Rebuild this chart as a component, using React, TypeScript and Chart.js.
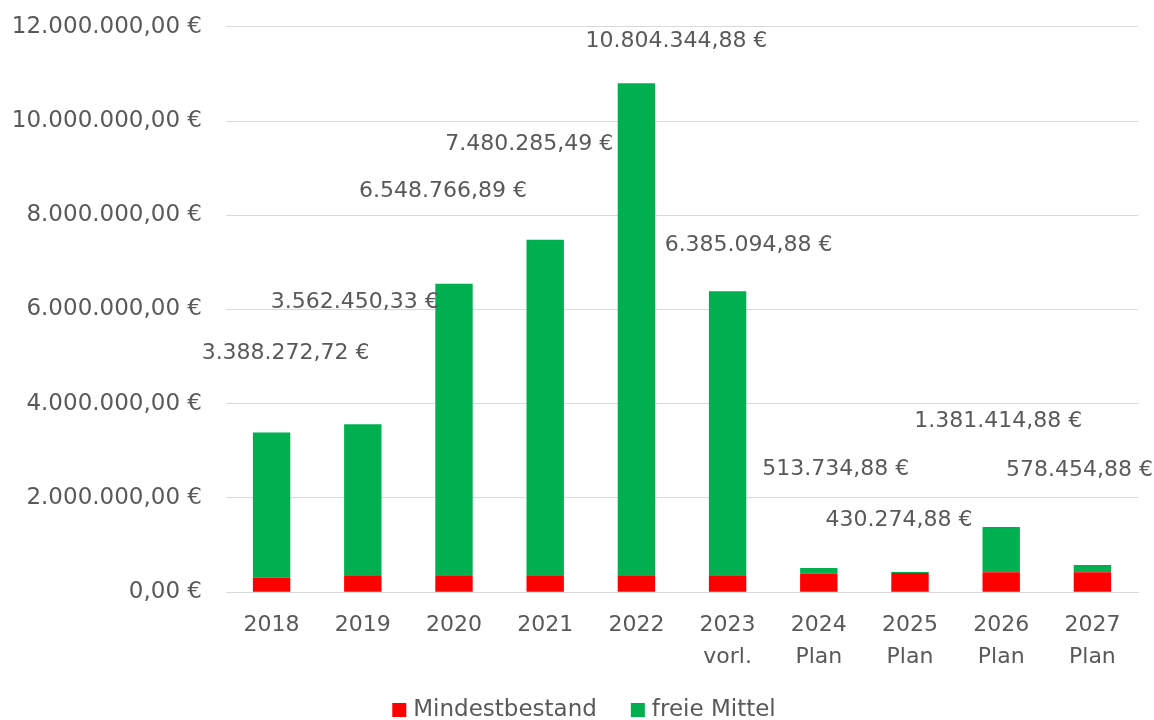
import React, { useEffect, useRef } from "react";
import { Chart, registerables } from "chart.js";

Chart.register(...registerables);

const categories: (string | string[])[] = [
  "2018",
  "2019",
  "2020",
  "2021",
  "2022",
  ["2023", "vorl."],
  ["2024", "Plan"],
  ["2025", "Plan"],
  ["2026", "Plan"],
  ["2027", "Plan"],
];

const seriesNames = ["Mindestbestand", "freie Mittel"];
const seriesColors = ["#FF0000", "#00B050"];

const mindestbestand = [312000, 345000, 345000, 345000, 345000, 345000, 395000, 410000, 422000, 425000];

const freieMittel = [
  3076272.72, 3217450.33, 6203766.89, 7135285.49, 10459344.88, 6040094.88, 118734.88, 20274.88, 959414.88,
  153454.88,
];

// label offsets (px) relative to the top centre of each stacked bar
const labelDx = [14, -8, -11, -16, 40, 21, 17, -11, -3, -13];
const labelDy = [-79, -122, -92, -95, -42, -46, -99, -52, -106, -95];

const yTicks = [0, 2000000, 4000000, 6000000, 8000000, 10000000, 12000000];

const FONT = "'DejaVu Sans', sans-serif";
const TEXT = "#595959";

function fmtEuro(v: number): string {
  const neg = v < 0;
  const cents = Math.round(Math.abs(v) * 100);
  const intPart = Math.floor(cents / 100).toString();
  const dec = (cents % 100).toString().padStart(2, "0");
  const grouped = intPart.replace(/\B(?=(\d{3})+(?!\d))/g, ".");
  return (neg ? "-" : "") + grouped + "," + dec + " €";
}

const totalLabelPlugin = {
  id: "totalLabels",
  afterDatasetsDraw(chart: any) {
    const ctx = chart.ctx;
    const meta = chart.getDatasetMeta(1);
    const yScale = chart.scales.y;
    ctx.save();
    ctx.font = `22px ${FONT}`;
    ctx.fillStyle = TEXT;
    ctx.textAlign = "center";
    ctx.textBaseline = "middle";
    meta.data.forEach((bar: any, i: number) => {
      const total = mindestbestand[i] + freieMittel[i];
      const y = yScale.getPixelForValue(total);
      ctx.fillText(fmtEuro(total), bar.x + labelDx[i], y + labelDy[i]);
    });
    ctx.restore();
  },
};

const customLegendPlugin = {
  id: "customLegend",
  afterDraw(chart: any) {
    const ctx = chart.ctx;
    ctx.save();
    ctx.font = `23px ${FONT}`;
    ctx.textBaseline = "middle";
    ctx.textAlign = "left";
    const box = 14;
    const gap = 7;
    const itemGap = 34;
    const widths = seriesNames.map((n) => ctx.measureText(n).width);
    const total = widths.reduce((a, w) => a + box + gap + w, 0) + itemGap * (seriesNames.length - 1);
    let x = chart.width / 2 + 7 - total / 2;
    const y = chart.height - 23;
    seriesNames.forEach((n, i) => {
      ctx.fillStyle = seriesColors[i];
      ctx.fillRect(x, y - box / 2, box, box);
      ctx.fillStyle = TEXT;
      ctx.fillText(n, x + box + gap, y);
      x += box + gap + widths[i] + itemGap;
    });
    ctx.restore();
  },
};

export default function App() {
  const ref = useRef<HTMLCanvasElement>(null);
  useEffect(() => {
    if (!ref.current) return;
    const chart = new Chart(ref.current, {
      type: "bar",
      data: {
        labels: categories,
        datasets: [
          {
            label: seriesNames[0],
            data: mindestbestand,
            backgroundColor: seriesColors[0],
            categoryPercentage: 1,
            barPercentage: 0.41,
          },
          {
            label: seriesNames[1],
            data: freieMittel,
            backgroundColor: seriesColors[1],
            categoryPercentage: 1,
            barPercentage: 0.41,
          },
        ],
      },
      options: {
        animation: false,
        responsive: true,
        maintainAspectRatio: false,
        layout: { padding: { left: 8, right: 16, top: 15, bottom: 43 } },
        plugins: {
          legend: { display: false },
          tooltip: { enabled: false },
        },
        scales: {
          x: {
            stacked: true,
            grid: { display: false, drawTicks: false },
            border: { color: "#D9D9D9", width: 1 },
            ticks: {
              color: TEXT,
              font: { family: FONT, size: 22, lineHeight: 1.45 },
              padding: 17,
              maxRotation: 0,
              autoSkip: false,
            },
          },
          y: {
            stacked: true,
            min: 0,
            max: 12000000,
            afterBuildTicks: (scale: any) => {
              scale.ticks = yTicks.map((v) => ({ value: v }));
            },
            afterFit: (scale: any) => {
              scale.width = 218;
            },
            grid: { color: "#D9D9D9", lineWidth: 1, drawTicks: false },
            border: { display: false },
            ticks: {
              color: TEXT,
              font: { family: FONT, size: 23 },
              padding: 24,
              callback: (v: any) => fmtEuro(Number(v)),
            },
          },
        },
      },
      plugins: [totalLabelPlugin, customLegendPlugin],
    });
    return () => chart.destroy();
  }, []);
  return (
    <div style={{ position: "fixed", left: 0, top: 0, width: 1154, height: 720, overflow: "hidden", background: "#fff" }}>
      <div style={{ position: "absolute", left: 0, top: -11, width: 1154, height: 744 }}>
        <canvas ref={ref} />
      </div>
    </div>
  );
}
